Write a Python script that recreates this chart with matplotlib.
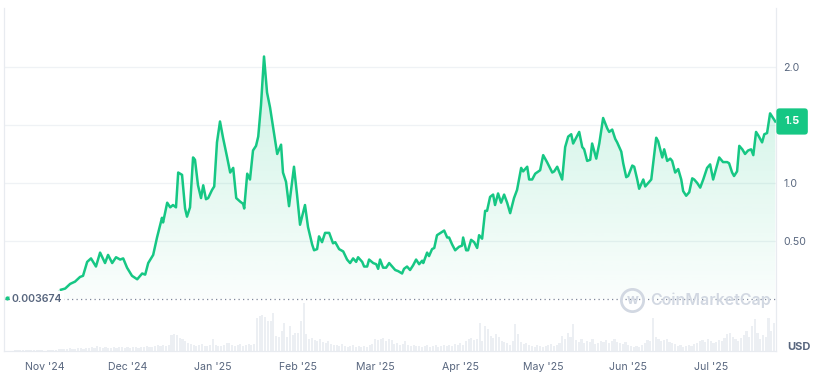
import numpy as np
import matplotlib.pyplot as plt
import matplotlib.colors as mcolors
import matplotlib.transforms as mtransforms
from matplotlib.path import Path

plt.rcParams['font.family'] = ['Inter', 'DejaVu Sans']

# days are counted from 1 Nov 2024, prices in USD
pre_days = [-13.8, -10.9, -8.4, -5.5, -1.8, 1.8, 4.7, 5.8]
pre_price = [0.01, 0.03, 0.06, 0.04, 0.03, 0.04, 0.06, 0.08]

days = [
    5.8, 7.3, 9.1, 10.9, 12.7, 13.8, 15.3, 16.7, 18.5, 20.0,
    21.8, 22.9, 24.4, 25.8, 27.3, 28.4, 29.8, 31.6, 33.5, 35.3,
    36.4, 37.5, 39.3, 40.7, 42.5, 42.9, 44.4, 45.5, 46.5, 47.6,
    48.4, 49.8, 50.9, 51.6, 52.7, 53.8, 54.5, 55.6, 56.7, 57.5,
    58.5, 59.3, 60.7, 61.5, 62.5, 63.6, 64.7, 66.2, 67.3, 68.4,
    69.5, 70.9, 72.0, 72.4, 73.5, 74.5, 75.6, 76.7, 77.5, 78.5,
    79.6, 80.7, 81.8, 82.9, 84.4, 85.8, 86.5, 87.6, 88.7, 89.8,
    90.5, 91.6, 92.7, 94.5, 95.6, 97.1, 97.8, 98.9, 99.6, 100.7,
    101.8, 103.3, 104.7, 105.5, 106.9, 108.4, 109.8, 110.9, 112.0, 113.1,
    113.8, 115.3, 116.0, 117.1, 117.8, 119.3, 120.4, 121.1, 121.8, 122.9,
    124.0, 125.1, 126.2, 127.3, 128.4, 129.8, 130.5, 131.6, 132.7, 133.8,
    134.9, 136.0, 137.1, 137.5, 138.9, 139.6, 140.7, 141.5, 142.5, 144.4,
    145.1, 146.2, 146.9, 148.0, 149.1, 150.5, 151.6, 152.0, 153.1, 153.8,
    154.9, 156.0, 157.1, 157.8, 158.9, 160.0, 160.7, 161.8, 162.9, 163.6,
    164.7, 165.8, 166.9, 168.0, 169.1, 170.5, 171.6, 173.1, 173.8, 175.3,
    176.0, 177.1, 178.2, 180.0, 181.1, 182.5, 184.4, 185.1, 186.2, 188.0,
    189.1, 190.2, 191.3, 192.0, 193.1, 194.2, 195.3, 196.0, 197.1, 198.2,
    198.9, 200.4, 201.5, 202.9, 204.4, 205.1, 206.2, 207.3, 208.0, 209.5,
    210.2, 211.3, 212.0, 213.5, 214.2, 215.3, 216.0, 217.5, 218.2, 219.3,
    220.4, 222.2, 222.9, 224.4, 225.1, 226.2, 227.3, 228.0, 229.1, 230.2,
    231.3, 232.0, 233.1, 234.2, 235.3, 236.0, 237.1, 238.2, 239.3, 240.7,
    241.8, 242.9, 244.4, 245.1, 246.5, 248.0, 248.7, 249.8, 250.5, 251.6,
    252.4, 253.5, 254.5, 255.6, 256.7, 257.5, 258.5, 259.3, 260.7, 261.5,
    262.5, 263.6, 265.5,
]
price = [
    0.08, 0.09, 0.13, 0.15, 0.19, 0.20, 0.32, 0.35, 0.28, 0.40,
    0.31, 0.38, 0.31, 0.36, 0.34, 0.35, 0.27, 0.20, 0.17, 0.22,
    0.21, 0.31, 0.38, 0.53, 0.70, 0.66, 0.83, 0.79, 0.81, 0.79,
    1.09, 1.07, 0.78, 0.71, 0.79, 1.22, 1.20, 0.98, 0.87, 0.98,
    0.86, 0.87, 0.94, 0.97, 1.35, 1.53, 1.39, 1.22, 1.09, 1.13,
    0.87, 0.84, 0.82, 0.78, 1.08, 1.03, 1.28, 1.32, 1.40, 1.67,
    2.09, 1.78, 1.65, 1.48, 1.25, 1.33, 1.09, 1.01, 0.80, 1.01,
    1.14, 0.90, 0.64, 0.81, 0.62, 0.47, 0.42, 0.43, 0.54, 0.49,
    0.57, 0.57, 0.48, 0.49, 0.43, 0.41, 0.34, 0.31, 0.35, 0.32,
    0.36, 0.32, 0.28, 0.28, 0.34, 0.31, 0.30, 0.26, 0.34, 0.27,
    0.27, 0.31, 0.28, 0.25, 0.24, 0.22, 0.26, 0.28, 0.25, 0.29,
    0.34, 0.30, 0.33, 0.31, 0.40, 0.37, 0.43, 0.44, 0.55, 0.58,
    0.59, 0.53, 0.53, 0.47, 0.42, 0.45, 0.46, 0.53, 0.42, 0.42,
    0.51, 0.49, 0.44, 0.55, 0.52, 0.76, 0.76, 0.88, 0.90, 0.81,
    0.91, 0.83, 0.90, 0.83, 0.74, 0.87, 0.94, 1.13, 1.10, 1.14,
    1.03, 1.03, 1.08, 1.11, 1.24, 1.18, 1.09, 1.10, 1.14, 1.03,
    1.31, 1.40, 1.42, 1.34, 1.39, 1.44, 1.31, 1.29, 1.19, 1.20,
    1.34, 1.21, 1.34, 1.56, 1.47, 1.44, 1.46, 1.38, 1.35, 1.27,
    1.17, 1.05, 1.06, 1.15, 1.14, 1.03, 0.95, 1.03, 0.97, 1.00,
    1.03, 1.39, 1.36, 1.22, 1.29, 1.19, 1.21, 1.19, 1.09, 1.12,
    1.03, 0.93, 0.89, 0.92, 1.04, 1.03, 1.00, 0.96, 1.03, 1.13,
    1.16, 1.03, 1.16, 1.22, 1.18, 1.18, 1.17, 1.09, 1.06, 1.10,
    1.32, 1.29, 1.25, 1.28, 1.29, 1.24, 1.44, 1.41, 1.35, 1.42,
    1.43, 1.60, 1.53,
]

# daily volume (relative units), day -14 .. 265
vol_days = np.arange(-14, 266)
volume = [
    0, 0, 0, 1, 1, 1, 1, 1, 1, 1,
    1, 1, 1, 1, 0.5, 1, 1, 1, 1, 2,
    2, 2, 2, 3, 2, 2, 3, 3, 2, 3,
    3, 4, 3, 5, 4, 3, 4, 3, 3, 4,
    3, 4, 4, 3, 4, 3, 4, 4, 3, 4,
    4, 5, 4, 4, 5, 6, 5, 6, 5, 6,
    16, 17, 16, 13, 12, 10, 8, 7, 6, 5,
    6, 7, 5, 5, 6, 12, 6, 5, 5, 6,
    8, 8, 6, 5, 6, 7, 5, 6, 7, 6,
    7, 33, 35, 36, 34, 30, 30, 38, 15, 14,
    20, 28, 14, 25, 16, 18, 18, 30, 48, 17,
    12, 13, 11, 10, 12, 9, 8, 10, 7, 6,
    6, 5, 7, 5, 4, 5, 6, 4, 5, 4,
    5, 4, 6, 7, 12, 11, 12, 13, 10, 12,
    11, 7, 8, 6, 7, 10, 6, 5, 6, 5,
    5, 4, 5, 6, 4, 5, 6, 4, 5, 6,
    5, 6, 5, 7, 6, 8, 6, 10, 12, 13,
    11, 12, 28, 10, 25, 22, 15, 13, 17, 14,
    10, 9, 8, 6, 10, 27, 17, 9, 7, 8,
    6, 5, 4, 6, 5, 4, 5, 6, 7, 5,
    6, 8, 15, 12, 18, 14, 27, 11, 9, 12,
    8, 10, 9, 12, 7, 8, 10, 9, 11, 8,
    10, 12, 9, 8, 7, 9, 6, 5, 4, 5,
    4, 6, 8, 11, 10, 33, 14, 12, 10, 11,
    12, 9, 8, 7, 5, 6, 4, 5, 6, 5,
    7, 8, 10, 11, 9, 12, 10, 8, 9, 11,
    10, 13, 17, 18, 14, 12, 10, 13, 16, 20,
    14, 25, 32, 18, 12, 16, 14, 33, 20, 28,
]

base_price = 0.003674
month_days = [0, 30, 61, 92, 120, 151, 181, 212, 242]
month_labels = ["Nov '24", "Dec '24", "Jan '25", "Feb '25", "Mar '25",
                "Apr '25", "May '25", "Jun '25", "Jul '25"]
price_ticks = [0.5, 1.0, 1.5, 2.0]
# the 1.5 label sits under the current-price tag, so it is left blank
price_tick_labels = ['0.50', '1.0', '', '2.0']

green = '#16c784'
grey_text = '#58667e'
grid_col = '#eff2f5'
mark_col = '#d2d8e2'

x_min, x_max = -14.9, 265.8
y_min, y_max = -0.448, 2.509

fig = plt.figure(figsize=(8.2, 3.75), dpi=100)
rect = [0.005, 0.064, 0.9415, 0.915]

# volume underneath
vax = fig.add_axes(rect)
vax.bar(vol_days, volume, width=0.8, color='#eceff3', linewidth=0)
vax.set_xlim(x_min, x_max)
vax.set_ylim(0, max(volume) * 7.15)
vax.axis('off')

ax = fig.add_axes(rect)
ax.set_facecolor('none')

all_days = pre_days[:-1] + days
all_price = pre_price[:-1] + price

# gradient fill under the price line
grad = np.zeros((256, 1, 4))
grad[..., :3] = mcolors.to_rgb(green)
grad[..., 3] = np.linspace(0.22, 0.02, 256)[:, None]
im = ax.imshow(grad, extent=[x_min, x_max, 0, max(all_price)], aspect='auto',
               origin='upper', zorder=1)
verts = [(all_days[0], 0)] + list(zip(all_days, all_price)) + [(all_days[-1], 0)]
im.set_clip_path(Path(verts), transform=ax.transData)

ax.plot(pre_days, pre_price, color='#c4eedb', lw=1.6, zorder=3)
ax.plot(pre_days[0], pre_price[0], 'o', color=green, ms=2, zorder=3)
ax.plot(days, price, color=green, lw=1.8, zorder=4, solid_joinstyle='round')

# grid
for t in price_ticks:
    ax.axhline(t, color=grid_col, lw=0.9, zorder=0)

blend = mtransforms.blended_transform_factory(ax.transAxes, ax.transData)

# starting-price reference
ax.axhline(base_price, color='#7d8699', lw=0.9, ls=(0, (1, 2.6)), zorder=2)
ax.text(0.01, base_price, '0.003674', transform=blend,
        ha='left', va='center', fontsize=7.6, fontweight='semibold', color=grey_text,
        bbox=dict(fc='white', ec='none', pad=1.5), zorder=5)

ax.set_xlim(x_min, x_max)
ax.set_ylim(y_min, y_max)

ax.set_xticks(month_days)
ax.set_xticklabels(month_labels)
ax.yaxis.tick_right()
ax.set_yticks(price_ticks)
ax.set_yticklabels(price_tick_labels)
ax.tick_params(axis='both', length=0, labelsize=7.6, labelcolor=grey_text)
ax.tick_params(axis='x', pad=8)
ax.tick_params(axis='y', pad=5)

for side in ['left', 'right', 'bottom']:
    ax.spines[side].set_color('#e8ebf0')
    ax.spines[side].set_linewidth(0.9)
ax.spines['top'].set_visible(False)

# current price tag, starting at the right edge of the plot
ax.annotate('1.5', xy=(1.0, price[-1]), xycoords=blend,
            xytext=(6, 0), textcoords='offset points',
            ha='left', va='center', fontsize=7.8, fontweight='bold', color='white',
            zorder=6, annotation_clip=False,
            bbox=dict(boxstyle='round,pad=0.75,rounding_size=0.3', fc=green, ec='none'))

# watermark
fig.text(0.7935, 0.199, 'CoinMarketCap', fontsize=11.5, fontweight='semibold',
         color=mark_col, ha='left', va='center')
ax.plot([0.771], [0.2], transform=fig.transFigure, marker='o', ms=16, mfc='none',
        mec=mark_col, mew=2, clip_on=False)
ax.text(0.771, 0.199, 'w', transform=fig.transFigure, fontsize=10, fontweight='bold',
        color=mark_col, ha='center', va='center')

fig.text(0.96, 0.075, 'USD', fontsize=8, fontweight='bold', color=grey_text,
         ha='left', va='center')

fig.savefig('out.png', dpi=100)
